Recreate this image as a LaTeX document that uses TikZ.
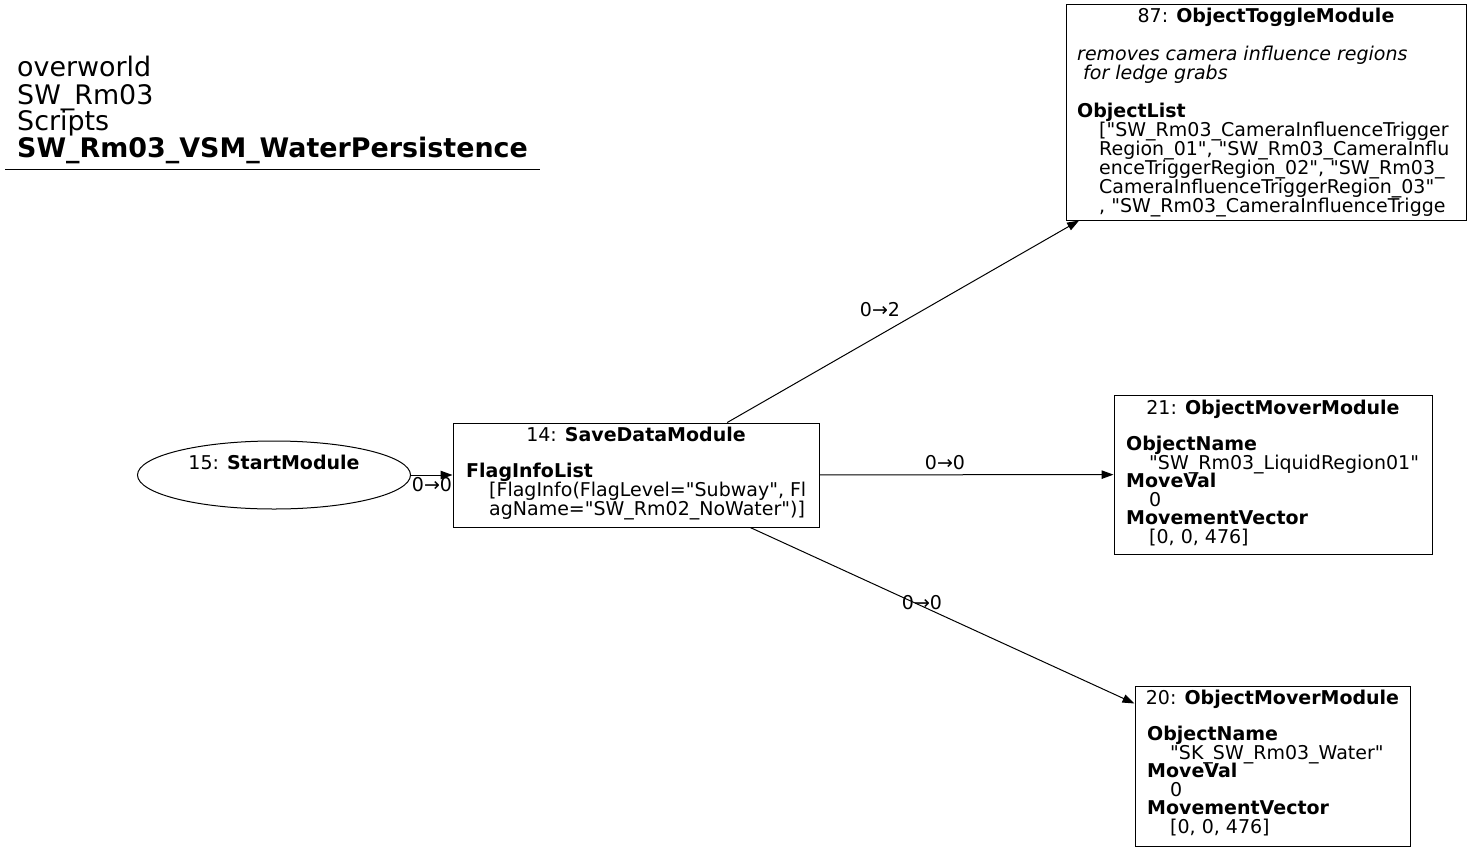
\documentclass[tikz,border=0pt]{standalone}
\usepackage{fontspec}
\setmainfont{DejaVu Sans}[Ligatures=TeXOff]
\usetikzlibrary{arrows.meta,shapes.geometric}
\newcommand\nf{\fontsize{19}{19}\selectfont}
\newcommand\tf{\fontsize{26.9}{27}\selectfont}
\begin{document}
\begin{tikzpicture}[x=1pt,y=-1pt,
  box/.style={draw, line width=1pt, inner sep=0pt, rectangle},
  oval/.style={draw, line width=1pt, inner sep=0pt, ellipse},
  tl/.style={inner sep=0pt, anchor=base west, font=\nf},
  tc/.style={inner sep=0pt, anchor=base, font=\nf},
  ttl/.style={inner sep=0pt, anchor=base west, font=\tf},
  lab/.style={inner sep=0pt, font=\nf},
  edge/.style={line width=1pt, -{Triangle[length=12pt,width=8.5pt]}}]
\useasboundingbox (0,0) rectangle (1471,851);
% title
\node[ttl] (h1) at (17,77) {overworld};
\node[ttl] (h2) at (17,104) {SW\_Rm03};
\node[ttl] (h3) at (17,130.5) {Scripts};
\node[ttl] (h4) at (17,157) {\textbf{SW\_Rm03\_VSM\_WaterPersistence}};
\coordinate (u1) at (5,169);
\coordinate (u2) at (540,169);
\draw[line width=1pt] (u1) -- (u2);
% nodes
\node[oval, minimum width=273pt, minimum height=68pt] (n15) at (274,475) {};
\node[tc] (t15) at (274,469.5) {15: \textbf{StartModule}};
\node[box, minimum width=366pt, minimum height=104pt] (n14) at (636,475) {};
\node[tc] (t14h) at (636,441.5) {14: \textbf{SaveDataModule}};
\node[tl] (t14a) at (466,477.5) {\textbf{FlagInfoList}};
\node[tl] (t14b) at (489,496.5) {[FlagInfo(FlagLevel="Subway", Fl};
\node[tl] (t14c) at (489,515.5) {agName="SW\_Rm02\_NoWater")]};
\node[box, minimum width=400pt, minimum height=215pt] (n87) at (1266,112.5) {};
\node[tc] (t87h) at (1266,23) {87: \textbf{ObjectToggleModule}};
\node[tl] (t87a) at (1077,60) {\itshape removes camera influence regions};
\node[tl] (t87b) at (1083,79) {\itshape for ledge grabs};
\node[tl] (t87c) at (1077,117) {\textbf{ObjectList}};
\node[tl] (t87d) at (1099,136) {["SW\_Rm03\_CameraInfluenceTrigger};
\node[tl] (t87e) at (1099,155) {Region\_01", "SW\_Rm03\_CameraInflu};
\node[tl] (t87f) at (1099,174) {enceTriggerRegion\_02", "SW\_Rm03\_};
\node[tl] (t87g) at (1099,193) {CameraInfluenceTriggerRegion\_03"};
\node[tl] (t87i) at (1099,212) {, "SW\_Rm03\_CameraInfluenceTrigge};
\node[box, minimum width=318pt, minimum height=159pt] (n21) at (1273,474.5) {};
\node[tc] (t21h) at (1273,414) {21: \textbf{ObjectMoverModule}};
\node[tl] (t21a) at (1126,450.5) {\textbf{ObjectName}};
\node[tl] (t21b) at (1149,469.1) {"SW\_Rm03\_LiquidRegion01"};
\node[tl] (t21c) at (1126,487.7) {\textbf{MoveVal}};
\node[tl] (t21d) at (1149,506.3) {0};
\node[tl] (t21e) at (1126,524.9) {\textbf{MovementVector}};
\node[tl] (t21f) at (1149,543.5) {[0, 0, 476]};
\node[box, minimum width=275pt, minimum height=160pt] (n20) at (1272.5,766) {};
\node[tc] (t20h) at (1272.5,704.5) {20: \textbf{ObjectMoverModule}};
\node[tl] (t20a) at (1147,740.5) {\textbf{ObjectName}};
\node[tl] (t20b) at (1170,759.1) {"SK\_SW\_Rm03\_Water"};
\node[tl] (t20c) at (1147,777.7) {\textbf{MoveVal}};
\node[tl] (t20d) at (1170,796.3) {0};
\node[tl] (t20e) at (1147,814.9) {\textbf{MovementVector}};
\node[tl] (t20f) at (1170,833.5) {[0, 0, 476]};
% edges
\draw[edge] (n15) -- (n14);
\draw[edge] (n14) -- (n87);
\draw[edge] (n14) -- (n21);
\draw[edge] (n14) -- (n20);
\node[lab] (l1) at (432,485) {0→0};
\node[lab] (l2) at (880,310) {0→2};
\node[lab] (l3) at (945,463) {0→0};
\node[lab] (l4) at (922,603) {0→0};
\end{tikzpicture}
\end{document}
